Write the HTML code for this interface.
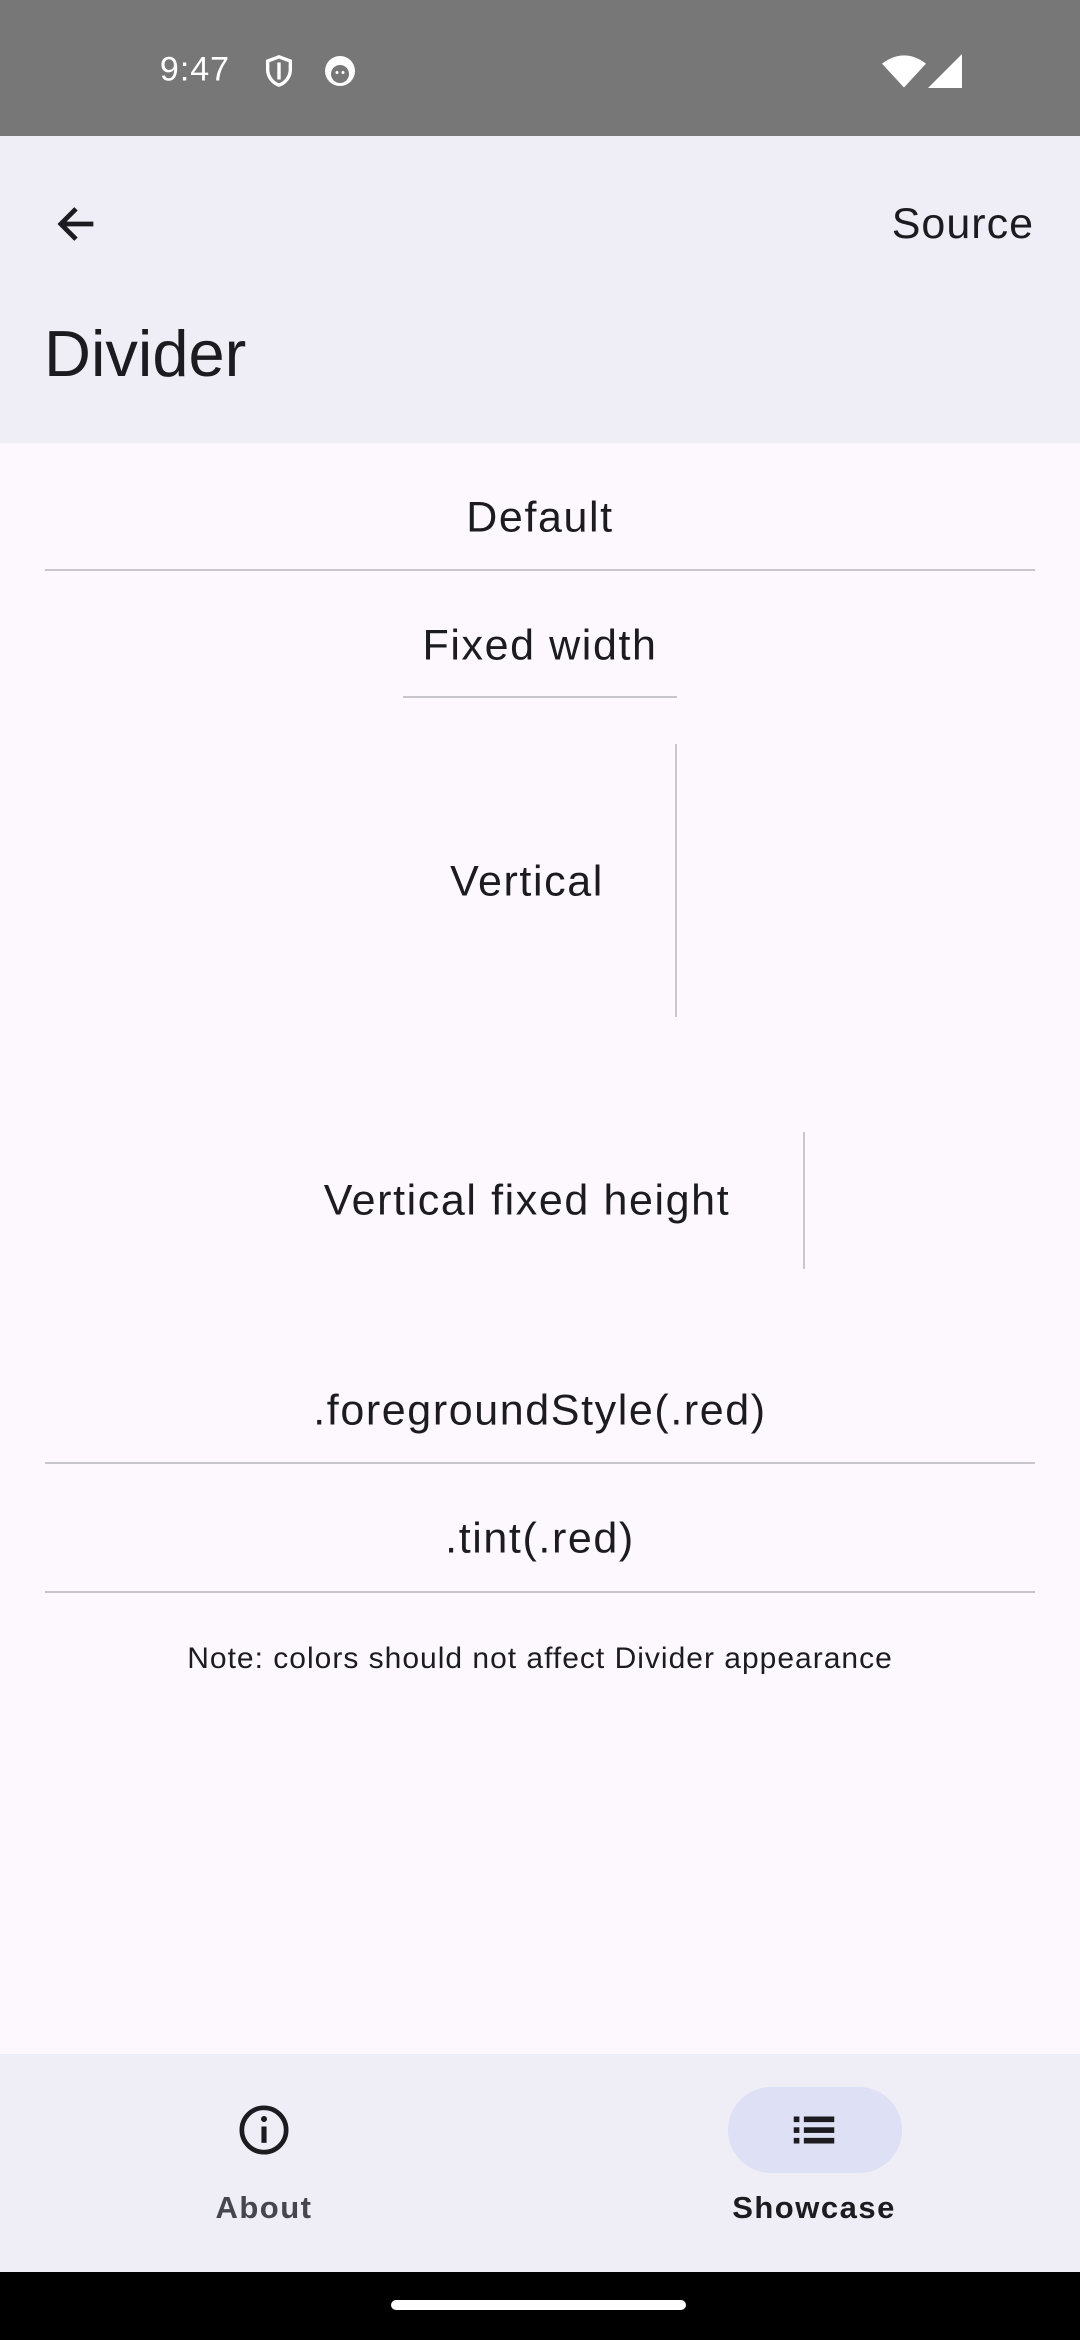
<!DOCTYPE html>
<html><head><meta charset="utf-8"><style>
*{margin:0;padding:0;box-sizing:border-box}
body{width:1080px;height:2340px;position:relative;background:#fcf8fd;font-family:"Liberation Sans",sans-serif;color:#1c1b1f;overflow:hidden}
.a{position:absolute}
.t{position:absolute;transform:translate(-50%,-50%);white-space:nowrap}
.m{font-size:43px;letter-spacing:1.6px}
.hl{position:absolute;height:2px;background:#c9c5cc}
.vl{position:absolute;width:2px;background:#c9c5cc}
</style></head><body>
<div class="a" style="left:0;top:0;width:1080px;height:136px;background:#777"></div>
<div class="t" style="left:195px;top:70px;font-size:34px;color:#fff;letter-spacing:1px">9:47</div>
<svg class="a" style="left:262px;top:53px" width="34" height="36" viewBox="0 0 24 24"><path d="M12 2L4 5v6c0 5 3.5 9.5 8 11 4.5-1.5 8-6 8-11V5z" fill="none" stroke="#fff" stroke-width="2.4"/><path d="M12 6v12" stroke="#fff" stroke-width="2.4"/></svg>
<svg class="a" style="left:322px;top:53px" width="36" height="36" viewBox="0 0 24 24"><circle cx="12" cy="12" r="10" fill="#fff"/><circle cx="12" cy="14" r="6" fill="#777"/><circle cx="10" cy="13" r="1" fill="#fff"/><circle cx="14" cy="13" r="1" fill="#fff"/></svg>
<svg class="a" style="left:882px;top:54px" width="44" height="34" viewBox="0 0 24 18"><path d="M0 5Q12-4 24 5L12 18z" fill="#fff"/></svg>
<svg class="a" style="left:928px;top:54px" width="34" height="34" viewBox="0 0 20 20"><path d="M20 0V20H0z" fill="#fff"/></svg>
<div class="a" style="left:0;top:136px;width:1080px;height:307px;background:#efedf6"></div>
<svg class="a" style="left:50px;top:198px" width="52" height="52" viewBox="0 0 24 24"><path d="M20 12H5M12 5l-7 7 7 7" fill="none" stroke="#1c1b1f" stroke-width="2.2"/></svg>
<div class="a" style="right:46px;top:200px;font-size:43px;line-height:48px;letter-spacing:1px">Source</div>
<div class="a" style="left:44px;top:318px;font-size:65px;line-height:72px">Divider</div>
<div class="t m" style="left:540px;top:518px">Default</div>
<div class="hl" style="left:45px;top:569px;width:990px"></div>
<div class="t m" style="left:540px;top:646px">Fixed width</div>
<div class="hl" style="left:403px;top:696px;width:274px"></div>
<div class="t m" style="left:527px;top:882px">Vertical</div>
<div class="vl" style="left:675px;top:744px;height:273px"></div>
<div class="t m" style="left:527px;top:1201px">Vertical fixed height</div>
<div class="vl" style="left:803px;top:1132px;height:137px"></div>
<div class="t m" style="left:540px;top:1411px">.foregroundStyle(.red)</div>
<div class="hl" style="left:45px;top:1462px;width:990px"></div>
<div class="t m" style="left:540px;top:1539px">.tint(.red)</div>
<div class="hl" style="left:45px;top:1591px;width:990px"></div>
<div class="t" style="left:540px;top:1659px;font-size:30px;letter-spacing:1px">Note: colors should not affect Divider appearance</div>
<div class="a" style="left:0;top:2054px;width:1080px;height:218px;background:#efedf5"></div>
<svg class="a" style="left:236px;top:2102px" width="56" height="56" viewBox="0 0 24 24"><circle cx="12" cy="12" r="9.5" fill="none" stroke="#1c1b1f" stroke-width="2"/><path d="M12 10.5v7" stroke="#1c1b1f" stroke-width="2.2"/><circle cx="12" cy="7.3" r="1.3" fill="#1c1b1f"/></svg>
<div class="t" style="left:264px;top:2208px;font-size:31px;color:#46464f;font-weight:bold;letter-spacing:1.5px">About</div>
<div class="a" style="left:728px;top:2087px;width:174px;height:86px;border-radius:43px;background:#dee0f6"></div>
<svg class="a" style="left:787px;top:2103px" width="54" height="54" viewBox="0 0 24 24"><g fill="#1c1b1f"><rect x="3" y="6" width="2.5" height="2.5"/><rect x="3" y="10.8" width="2.5" height="2.5"/><rect x="3" y="15.5" width="2.5" height="2.5"/><rect x="7.5" y="6" width="13.5" height="2.5"/><rect x="7.5" y="10.8" width="13.5" height="2.5"/><rect x="7.5" y="15.5" width="13.5" height="2.5"/></g></svg>
<div class="t" style="left:814px;top:2208px;font-size:31px;font-weight:bold;letter-spacing:1.5px">Showcase</div>
<div class="a" style="left:0;top:2272px;width:1080px;height:68px;background:#000"></div>
<div class="a" style="left:391px;top:2300px;width:295px;height:10px;border-radius:5px;background:#fff"></div>
</body></html>
